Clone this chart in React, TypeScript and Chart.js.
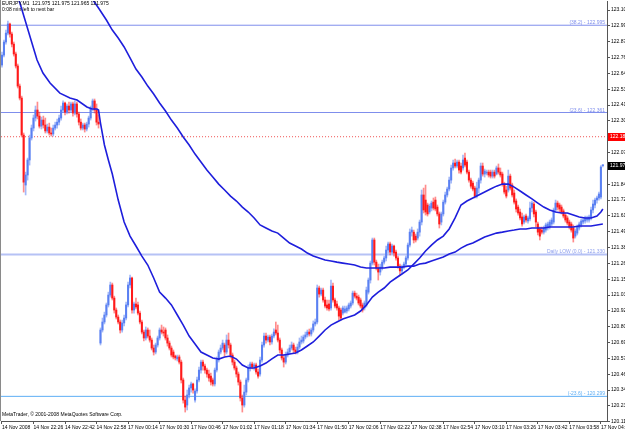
import React, { useEffect, useRef } from "react";
import { Chart, registerables } from "chart.js";

Chart.register(...registerables);

const titleText = "EURJPY,M1  121.975 121.975 121.965 121.975";
const timerText = "0:08 min left to next bar";
const copyrightText = "MetaTrader, \u00a9 2001-2008 MetaQuotes Software Corp.";

const timeTickLabels = [
  "14 Nov 2008", "14 Nov 22:26", "14 Nov 22:42", "14 Nov 22:58", "17 Nov 00:14",
  "17 Nov 00:30", "17 Nov 00:46", "17 Nov 01:02", "17 Nov 01:18", "17 Nov 01:34",
  "17 Nov 01:50", "17 Nov 02:06", "17 Nov 02:22", "17 Nov 02:38", "17 Nov 02:54",
  "17 Nov 03:10", "17 Nov 03:26", "17 Nov 03:42", "17 Nov 03:58", "17 Nov 04:14",
];
const barsPerTimeTick = 16;

const priceTicks = [
  120.115, 120.23, 120.345, 120.46, 120.575, 120.69, 120.805, 120.92, 121.035,
  121.15, 121.265, 121.38, 121.495, 121.61, 121.725, 121.84, 121.955, 122.07,
  122.185, 122.3, 122.415, 122.53, 122.645, 122.76, 122.875, 122.99, 123.105,
];

const opens = [
  122.706,122.778,122.873,122.938,123.004,122.931,122.858,122.786,122.699,122.553,
  122.466,122.197,121.834,121.907,122.016,122.176,122.248,122.321,122.379,122.335,
  122.262,122.306,122.270,122.227,122.255,122.212,122.205,122.248,122.270,122.291,
  122.321,122.379,122.430,122.364,122.408,122.379,122.423,122.357,122.423,122.350,
  122.291,122.248,122.270,122.241,122.277,122.321,122.394,122.445,122.379,122.291,
  120.686,120.781,120.839,120.890,120.963,121.035,121.108,121.013,120.926,120.875,
  120.839,120.781,120.832,120.868,120.963,121.108,121.159,120.926,120.970,120.963,
  120.904,120.839,120.766,120.723,120.781,120.737,120.708,120.650,120.621,120.672,
  120.723,120.781,120.766,120.781,120.723,120.686,120.650,120.621,120.592,120.571,
  120.585,120.548,120.418,120.272,120.236,120.309,120.360,120.389,120.272,120.338,
  120.418,120.490,120.548,120.519,120.490,120.461,120.446,120.418,120.389,120.490,
  120.563,120.621,120.650,120.672,120.621,120.708,120.672,120.599,120.548,120.505,
  120.461,120.403,120.287,120.236,120.330,120.418,120.505,120.534,120.512,120.527,
  120.476,120.461,120.563,120.672,120.737,120.708,120.730,120.694,120.737,120.781,
  120.759,120.708,120.636,120.578,120.548,120.599,120.621,120.650,120.672,120.636,
  120.621,120.657,120.694,120.701,120.730,120.745,120.766,120.752,120.781,120.825,
  120.839,121.086,121.042,121.071,120.999,120.963,120.970,120.941,121.100,120.999,
  120.970,120.941,120.926,120.904,120.911,120.919,120.934,120.955,120.977,121.049,
  121.027,121.020,120.999,120.963,120.941,120.963,121.056,121.144,121.267,121.435,
  121.274,121.231,121.202,121.231,121.274,121.304,121.362,121.406,121.347,121.391,
  121.347,121.304,121.245,121.210,121.238,121.260,121.304,121.398,121.492,121.492,
  121.463,121.449,121.492,121.565,121.762,121.725,121.689,121.638,121.667,121.710,
  121.725,121.674,121.624,121.565,121.624,121.710,121.762,121.805,121.870,121.958,
  121.994,121.972,122.001,121.972,121.958,122.030,122.001,121.928,121.870,121.848,
  121.812,121.754,121.812,121.870,121.972,121.914,121.921,121.928,121.928,121.899,
  121.928,121.914,121.958,121.928,121.914,121.841,121.798,121.798,121.899,121.834,
  121.776,121.718,121.674,121.638,121.602,121.565,121.609,121.573,121.588,121.667,
  121.696,121.638,121.551,121.515,121.507,121.492,121.507,121.522,121.529,121.551,
  121.565,121.653,121.703,121.689,121.674,121.646,121.616,121.595,121.565,121.551,
  121.522,121.463,121.485,121.522,121.544,121.565,121.573,121.580,121.580,121.595,
  121.653,121.689,121.725,121.740,121.747,121.975,
];

const highs = [
  122.800,122.887,122.960,123.026,123.011,122.946,122.873,122.800,122.713,122.568,
  122.480,122.212,121.928,122.030,122.197,122.270,122.343,122.408,122.437,122.364,
  122.328,122.335,122.321,122.277,122.284,122.248,122.270,122.291,122.314,122.343,
  122.408,122.445,122.437,122.423,122.437,122.437,122.437,122.445,122.437,122.364,
  122.314,122.284,122.284,122.291,122.335,122.408,122.459,122.459,122.423,122.343,
  120.796,120.868,120.911,120.977,121.056,121.129,121.122,121.027,120.941,120.890,
  120.854,120.854,120.890,120.984,121.129,121.180,121.166,120.984,121.013,120.984,
  120.919,120.854,120.781,120.803,120.796,120.781,120.723,120.672,120.686,120.737,
  120.796,120.817,120.803,120.796,120.745,120.701,120.665,120.636,120.599,120.599,
  120.599,120.563,120.432,120.301,120.345,120.381,120.403,120.396,120.353,120.439,
  120.512,120.563,120.563,120.534,120.505,120.490,120.468,120.432,120.505,120.585,
  120.636,120.672,120.708,120.686,120.745,120.759,120.686,120.614,120.563,120.519,
  120.476,120.418,120.309,120.381,120.432,120.527,120.548,120.548,120.541,120.541,
  120.498,120.585,120.694,120.759,120.759,120.745,120.745,120.752,120.789,120.839,
  120.817,120.723,120.650,120.599,120.621,120.643,120.672,120.694,120.686,120.657,
  120.679,120.723,120.737,120.745,120.766,120.781,120.788,120.796,120.847,120.861,
  121.108,121.100,121.086,121.086,121.020,120.999,120.999,121.144,121.122,121.013,
  120.992,120.955,120.941,120.955,120.955,120.955,120.977,120.992,121.064,121.064,
  121.049,121.035,121.013,120.977,120.992,121.093,121.159,121.282,121.449,121.449,
  121.289,121.260,121.260,121.289,121.318,121.391,121.420,121.420,121.406,121.398,
  121.362,121.318,121.260,121.253,121.274,121.318,121.413,121.515,121.529,121.507,
  121.478,121.515,121.580,121.798,121.812,121.834,121.703,121.696,121.718,121.740,
  121.747,121.689,121.638,121.638,121.725,121.783,121.819,121.892,121.979,122.016,
  122.023,122.016,122.016,121.994,122.052,122.066,122.016,121.943,121.885,121.863,
  121.826,121.855,121.885,121.994,121.994,121.950,121.943,121.943,121.943,121.943,
  121.943,121.972,121.987,121.958,121.928,121.855,121.826,121.943,121.914,121.848,
  121.798,121.733,121.689,121.660,121.631,121.616,121.624,121.609,121.710,121.718,
  121.710,121.653,121.565,121.529,121.529,121.536,121.558,121.565,121.580,121.595,
  121.667,121.725,121.718,121.703,121.689,121.660,121.631,121.609,121.580,121.565,
  121.544,121.515,121.544,121.565,121.588,121.595,121.609,121.609,121.616,121.674,
  121.725,121.740,121.754,121.783,121.975,121.975,
];

const lows = [
  122.691,122.764,122.858,122.924,122.909,122.837,122.771,122.684,122.539,122.452,
  122.183,121.783,121.762,121.870,121.979,122.161,122.227,122.299,122.314,122.248,
  122.241,122.248,122.212,122.212,122.197,122.190,122.190,122.234,122.248,122.270,
  122.306,122.364,122.343,122.350,122.357,122.364,122.335,122.343,122.328,122.270,
  122.234,122.234,122.219,122.227,122.255,122.306,122.372,122.357,122.270,122.248,
  120.672,120.766,120.825,120.875,120.948,121.020,120.999,120.904,120.861,120.825,
  120.759,120.766,120.810,120.854,120.948,121.086,120.904,120.904,120.934,120.890,
  120.825,120.752,120.701,120.708,120.723,120.693,120.636,120.599,120.607,120.657,
  120.708,120.752,120.737,120.708,120.664,120.636,120.585,120.571,120.563,120.556,
  120.534,120.396,120.250,120.185,120.200,120.287,120.330,120.323,120.257,120.323,
  120.403,120.468,120.490,120.468,120.439,120.410,120.381,120.374,120.374,120.476,
  120.548,120.607,120.636,120.592,120.607,120.650,120.578,120.527,120.490,120.439,
  120.381,120.265,120.185,120.221,120.309,120.403,120.483,120.498,120.490,120.461,
  120.432,120.446,120.548,120.657,120.686,120.694,120.672,120.679,120.723,120.745,
  120.694,120.614,120.563,120.512,120.534,120.585,120.607,120.636,120.614,120.607,
  120.607,120.643,120.679,120.686,120.716,120.730,120.737,120.737,120.766,120.810,
  120.825,121.020,121.028,120.984,120.941,120.926,120.919,120.926,120.984,120.941,
  120.926,120.854,120.854,120.890,120.904,120.904,120.919,120.941,120.963,121.013,
  120.999,120.963,120.941,120.911,120.926,120.948,121.042,121.122,121.253,121.253,
  121.217,121.144,121.180,121.217,121.260,121.282,121.340,121.326,121.333,121.318,
  121.289,121.231,121.180,121.195,121.224,121.245,121.289,121.384,121.463,121.413,
  121.420,121.435,121.463,121.544,121.631,121.616,121.609,121.624,121.646,121.653,
  121.646,121.609,121.522,121.544,121.609,121.696,121.747,121.791,121.848,121.943,
  121.958,121.958,121.921,121.914,121.943,121.965,121.914,121.855,121.812,121.791,
  121.740,121.740,121.776,121.848,121.899,121.892,121.907,121.892,121.885,121.885,
  121.885,121.907,121.914,121.892,121.826,121.769,121.740,121.783,121.798,121.747,
  121.696,121.638,121.616,121.580,121.536,121.551,121.565,121.558,121.573,121.638,
  121.602,121.529,121.471,121.435,121.478,121.478,121.492,121.507,121.515,121.536,
  121.551,121.638,121.653,121.638,121.624,121.595,121.565,121.544,121.515,121.492,
  121.420,121.449,121.471,121.507,121.529,121.551,121.558,121.565,121.565,121.580,
  121.631,121.667,121.703,121.725,121.733,121.965,
];

const closes = [
  122.778,122.873,122.938,123.004,122.931,122.858,122.786,122.699,122.553,122.466,
  122.197,121.855,121.907,122.016,122.176,122.248,122.321,122.379,122.335,122.262,
  122.306,122.270,122.227,122.255,122.212,122.205,122.248,122.270,122.291,122.321,
  122.379,122.430,122.364,122.408,122.379,122.423,122.357,122.423,122.350,122.291,
  122.248,122.270,122.241,122.277,122.321,122.394,122.445,122.379,122.291,122.277,
  120.781,120.839,120.890,120.963,121.035,121.108,121.013,120.926,120.875,120.839,
  120.781,120.832,120.868,120.963,121.108,121.159,120.926,120.970,120.948,120.904,
  120.839,120.766,120.723,120.781,120.737,120.708,120.650,120.621,120.672,120.723,
  120.781,120.766,120.759,120.723,120.686,120.650,120.599,120.585,120.578,120.585,
  120.548,120.418,120.272,120.221,120.309,120.360,120.389,120.345,120.338,120.418,
  120.490,120.548,120.519,120.490,120.461,120.432,120.403,120.389,120.490,120.563,
  120.621,120.650,120.686,120.621,120.708,120.672,120.599,120.548,120.505,120.461,
  120.403,120.287,120.236,120.330,120.418,120.505,120.534,120.512,120.527,120.476,
  120.446,120.563,120.672,120.737,120.708,120.730,120.694,120.737,120.766,120.759,
  120.708,120.636,120.578,120.548,120.599,120.621,120.650,120.672,120.636,120.621,
  120.657,120.694,120.708,120.730,120.745,120.766,120.752,120.781,120.825,120.839,
  121.086,121.042,121.071,120.999,120.955,120.941,120.934,121.100,120.999,120.955,
  120.941,120.882,120.868,120.941,120.934,120.941,120.963,120.977,121.049,121.027,
  121.013,120.977,120.955,120.926,120.977,121.071,121.144,121.267,121.435,121.274,
  121.231,121.202,121.238,121.274,121.304,121.362,121.406,121.347,121.391,121.340,
  121.304,121.245,121.210,121.238,121.260,121.304,121.398,121.492,121.507,121.435,
  121.435,121.492,121.565,121.762,121.653,121.638,121.624,121.681,121.703,121.667,
  121.660,121.624,121.551,121.624,121.710,121.762,121.805,121.870,121.958,121.994,
  121.972,122.001,121.943,121.928,122.016,121.979,121.928,121.870,121.826,121.805,
  121.754,121.812,121.870,121.972,121.914,121.936,121.928,121.907,121.899,121.928,
  121.899,121.958,121.928,121.907,121.841,121.783,121.754,121.899,121.812,121.762,
  121.710,121.660,121.631,121.595,121.551,121.602,121.580,121.595,121.667,121.703,
  121.624,121.565,121.492,121.463,121.492,121.522,121.544,121.551,121.565,121.580,
  121.653,121.703,121.674,121.660,121.638,121.609,121.580,121.558,121.529,121.507,
  121.449,121.500,121.529,121.551,121.573,121.580,121.595,121.595,121.602,121.653,
  121.696,121.725,121.740,121.769,121.965,121.975,
];

const fastMaBars = [
  6, 9.1, 11.7, 15.2, 17.8, 20.8, 24.4, 29.4, 34.5, 38.1, 43.1, 45.7, 48.2, 49, 50, 52, 54, 56,
  59, 62, 65, 68, 71, 74, 77, 80, 83, 86, 89, 92, 95, 98, 101, 104, 107, 110, 113, 116, 119,
  122, 125, 128, 131, 134, 137, 140, 143, 146, 149, 152, 155, 158, 161, 164, 167, 170, 173,
  176, 179, 182, 185, 188, 191, 194, 197, 200, 203, 206, 209, 212, 215, 218, 221, 224, 227,
  230, 233, 236, 239, 242, 245, 248, 251, 254, 257, 260, 263, 266, 269, 272, 275, 278, 281,
  284, 287, 290, 293, 296, 299, 302, 304, 305,
];
const fastMa = [
  123.272, 123.156, 123.033, 122.866, 122.742, 122.648, 122.575, 122.502, 122.466, 122.452,
  122.401, 122.386, 122.386, 122.379, 122.284, 122.125, 122.016, 121.914,
  121.725, 121.565, 121.463, 121.391, 121.318, 121.253, 121.159, 121.056, 121.013, 120.963,
  120.890, 120.817, 120.737, 120.679, 120.621, 120.599, 120.578, 120.570, 120.585, 120.592, 120.570,
  120.527, 120.505, 120.505, 120.519, 120.541, 120.571, 120.599, 120.599, 120.607, 120.614,
  120.636, 120.665, 120.694, 120.737, 120.781, 120.817, 120.839, 120.861,
  120.875, 120.890, 120.919, 120.963, 121.020, 121.056, 121.086, 121.129, 121.159, 121.188,
  121.217, 121.260, 121.304, 121.355, 121.398, 121.435, 121.463, 121.515,
  121.595, 121.689, 121.718, 121.740, 121.762, 121.783, 121.805, 121.826, 121.841, 121.841,
  121.819, 121.791, 121.762, 121.733, 121.703, 121.674, 121.653, 121.638,
  121.631, 121.631, 121.616, 121.602, 121.595, 121.595, 121.609, 121.638, 121.660,
];

const slowMaBars = [
  42.6, 46.2, 49, 50, 53, 56, 59, 62, 65, 68, 71, 74, 77, 80, 83, 86, 89, 92, 95, 98, 101,
  104, 107, 110, 113, 116, 119, 122, 125, 128, 131, 134, 137, 140, 143, 146, 149, 152, 155,
  158, 161, 164, 167, 170, 173, 176, 179, 182, 185, 188, 191, 194, 197, 200, 203, 206, 209,
  212, 215, 218, 221, 224, 227, 230, 233, 236, 239, 242, 245, 248, 251, 254, 257, 260, 263,
  266, 269, 272, 275, 278, 281, 284, 287, 290, 293, 296, 299, 302, 305,
];
const slowMa = [
  123.251, 123.178, 123.120, 123.098, 123.033, 122.960, 122.902, 122.837, 122.757, 122.677,
  122.619, 122.553, 122.495, 122.430, 122.372, 122.306, 122.248, 122.183, 122.125, 122.059, 122.001,
  121.943, 121.892, 121.841, 121.798, 121.754, 121.718, 121.674, 121.638, 121.595, 121.544,
  121.522, 121.500, 121.485, 121.449, 121.413, 121.391, 121.369, 121.340,
  121.318, 121.304, 121.289, 121.282, 121.274, 121.267, 121.260, 121.253, 121.238, 121.231,
  121.231, 121.231, 121.231, 121.238, 121.238, 121.238, 121.245, 121.245,
  121.260, 121.267, 121.282, 121.296, 121.311, 121.333, 121.347, 121.376, 121.398, 121.413,
  121.435, 121.456, 121.471, 121.485, 121.492, 121.500, 121.507, 121.515,
  121.515, 121.522, 121.522, 121.522, 121.529, 121.529, 121.529, 121.529, 121.529, 121.536,
  121.536, 121.536, 121.544, 121.551,
];

const levelValues = [122.995, 122.361, 121.33, 120.299];
const levelTexts = ["(38.2) - 122.995", "(23.6) - 122.361", "Daily LOW (0.0) - 121.330", "(-23.6) - 120.299"];
const levelColors = ["#7f8eec", "#7f8eec", "#b6c2f5", "#5eaef5"];
const levelTextColors = ["#7f8eec", "#7f8eec", "#8fa0ee", "#5eaef5"];
const levelWidths = [1, 1, 2, 1];

const markerValue = 122.185;
const markerText = "122.185";
const bidValue = 121.975;
const bidText = "121.975";

const FONT = "'Liberation Sans', Arial, sans-serif";
const BULL = "#5a80f2";
const BEAR = "#ff1a1a";
const BULL_WICK = "rgba(90,128,242,0.55)";
const BEAR_WICK = "rgba(255,26,26,0.5)";
const MA_COLOR = "#1e1edc";

const overlayPlugin = {
  id: "mtOverlay",
  beforeDraw(chart: any) {
    const c = chart.ctx;
    c.save();
    c.fillStyle = "#ffffff";
    c.fillRect(0, 0, chart.width, chart.height);
    c.restore();
  },
  afterDraw(chart: any) {
    const { ctx, chartArea: a, scales } = chart;
    const ys = scales.y;
    ctx.save();
    ctx.strokeStyle = "#8a8a8a";
    ctx.lineWidth = 1;
    ctx.beginPath();
    ctx.moveTo(0.5, 0);
    ctx.lineTo(0.5, a.bottom);
    ctx.stroke();

    ctx.font = `5px ${FONT}`;
    ctx.textAlign = "right";
    ctx.textBaseline = "alphabetic";
    levelValues.forEach((v, k) => {
      ctx.fillStyle = levelTextColors[k];
      ctx.fillText(levelTexts[k], a.right - 2, ys.getPixelForValue(v) - 1);
    });

    const box = (v: number, text: string, bg: string) => {
      const py = ys.getPixelForValue(v);
      ctx.fillStyle = bg;
      ctx.fillRect(a.right + 1, Math.round(py) - 4, chart.width - a.right - 1, 8);
      ctx.fillStyle = "#ffffff";
      ctx.textAlign = "left";
      ctx.textBaseline = "middle";
      ctx.fillText(text, a.right + 3, py);
    };
    box(markerValue, markerText, "#ff0000");
    box(bidValue, bidText, "#000000");

    ctx.fillStyle = "#000000";
    ctx.textAlign = "left";
    ctx.textBaseline = "middle";
    ctx.fillText(titleText, 2, 4);
    ctx.fillText(timerText, 2, 10);
    ctx.fillText(copyrightText, 2, 415);
    ctx.restore();
  },
};

export default function App() {
  const ref = useRef<HTMLCanvasElement | null>(null);

  useEffect(() => {
    if (!ref.current) return;
    const idx = closes.map((_, i) => i);
    const bodies = idx.map((i) => ({ x: i, y: [opens[i], closes[i]] }));
    const wicks = idx.map((i) => ({ x: i, y: [lows[i], highs[i]] }));
    const bodyColors = idx.map((i) => (closes[i] >= opens[i] ? BULL : BEAR));
    const wickColors = idx.map((i) => (closes[i] >= opens[i] ? BULL_WICK : BEAR_WICK));
    const fast = fastMaBars.map((x, k) => ({ x, y: fastMa[k] }));
    const slow = slowMaBars.map((x, k) => ({ x, y: slowMa[k] }));

    const levelSets: any[] = levelValues.map((v, k) => ({
      type: "line",
      data: [{ x: -2, y: v }, { x: 312, y: v }],
      borderColor: levelColors[k],
      borderWidth: levelWidths[k],
      pointRadius: 0,
      order: 10,
    }));
    levelSets.push({
      type: "line",
      data: [{ x: -2, y: markerValue }, { x: 312, y: markerValue }],
      borderColor: "#f05050",
      borderWidth: 1,
      borderDash: [1, 2],
      pointRadius: 0,
      order: 10,
    });

    const chart = new Chart(ref.current, {
      type: "bar",
      data: {
        datasets: [
          ...levelSets,
          {
            type: "bar",
            data: wicks as any,
            backgroundColor: wickColors,
            borderWidth: 0,
            grouped: false,
            barThickness: 1,
            maxBarThickness: 1,
            order: 6,
          },
          {
            type: "bar",
            data: bodies as any,
            backgroundColor: bodyColors,
            borderWidth: 0,
            grouped: false,
            barThickness: 1.4,
            maxBarThickness: 1.4,
            minBarLength: 1,
            order: 5,
          },
          {
            type: "line",
            data: slow as any,
            borderColor: MA_COLOR,
            borderWidth: 1.6,
            pointRadius: 0,
            tension: 0,
            order: 1,
          },
          {
            type: "line",
            data: fast as any,
            borderColor: MA_COLOR,
            borderWidth: 1.6,
            pointRadius: 0,
            tension: 0,
            order: 1,
          },
        ] as any,
      },
      options: {
        responsive: false,
        animation: false,
        devicePixelRatio: 1,
        events: [],
        layout: { padding: { left: 1, top: 1, right: 0, bottom: 0 } },
        plugins: { legend: { display: false }, tooltip: { enabled: false }, title: { display: false } },
        scales: {
          x: {
            type: "linear",
            position: "bottom",
            min: -0.5,
            max: 307.1,
            offset: false,
            grid: { display: true, offset: false, drawOnChartArea: false, drawTicks: true, tickLength: 3, color: "#555555" },
            border: { display: true, color: "#555555", width: 1 },
            ticks: {
              autoSkip: false,
              maxRotation: 0,
              minRotation: 0,
              align: "start",
              padding: 1,
              color: "#000000",
              font: { size: 5, family: FONT },
              callback: (v: any) => {
                const k = Math.round(Number(v) / barsPerTimeTick);
                return timeTickLabels[k] ?? "";
              },
            },
            afterBuildTicks: (s: any) => {
              s.ticks = timeTickLabels.map((_, k) => ({ value: k * barsPerTimeTick }));
            },
            afterFit: (s: any) => {
              s.height = 10;
              s.paddingLeft = 0;
              s.paddingRight = 0;
            },
          } as any,
          y: {
            type: "linear",
            position: "right",
            min: 120.12,
            max: 123.171,
            grid: { display: true, drawOnChartArea: false, drawTicks: true, tickLength: 3, color: "#555555" },
            border: { display: true, color: "#555555", width: 1 },
            ticks: {
              autoSkip: false,
              padding: 1,
              color: "#000000",
              font: { size: 5, family: FONT },
              callback: (v: any) => Number(v).toFixed(3),
            },
            afterBuildTicks: (s: any) => {
              s.ticks = priceTicks.map((v) => ({ value: v }));
            },
            afterFit: (s: any) => {
              s.width = 18;
              s.paddingTop = 0;
              s.paddingBottom = 0;
            },
          } as any,
        },
      },
      plugins: [overlayPlugin],
    } as any);

    return () => chart.destroy();
  }, []);

  return (
    <div style={{ position: "fixed", left: 0, top: 0, width: 625, height: 431, background: "#ffffff" }}>
      <canvas ref={ref} width={625} height={431} style={{ display: "block", width: 625, height: 431 }} />
    </div>
  );
}
